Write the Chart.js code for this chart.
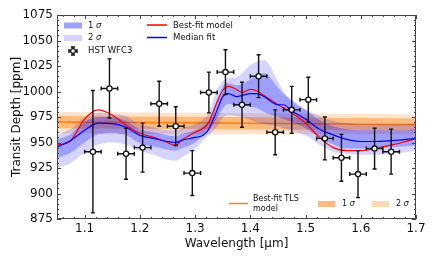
<!DOCTYPE html>
<html>
<head>
<meta charset="utf-8">
<script src="https://cdn.jsdelivr.net/npm/chart.js@4.4.0/dist/chart.umd.min.js"></script>
<style>
  html, body { margin: 0; padding: 0; background: #fff; }
  #wrap { width: 432px; height: 259px; }
</style>
</head>
<body>
<div id="wrap"><canvas id="c" width="432" height="259"></canvas></div>
<script>
// HST WFC3 spectrum
const wav = [1.115, 1.145, 1.175, 1.205, 1.235, 1.265, 1.295, 1.325, 1.355, 1.385,
             1.415, 1.445, 1.475, 1.505, 1.535, 1.565, 1.595, 1.625, 1.655];
const depth = [941, 1003, 939, 945, 988, 966, 920, 999, 1019, 987,
               1015, 960, 982, 992, 954, 935, 919, 944, 941];
const depthErr = [60, 29, 25, 24, 22, 19, 22, 20, 22, 22,
                  21, 22, 23, 22, 21, 23, 23, 20, 22];
const binHalf = 0.015;

// retrieval model
const modelWav = [1.05, 1.075, 1.10, 1.125, 1.15, 1.175, 1.20, 1.225, 1.25, 1.265, 1.275,
                  1.30, 1.315, 1.325, 1.34, 1.35, 1.36, 1.375, 1.385, 1.40, 1.41, 1.425,
                  1.45, 1.46, 1.475, 1.50, 1.525, 1.55, 1.575, 1.60, 1.625, 1.65, 1.675, 1.70];
const bestFit = [947, 952, 973, 982, 977, 967, 959, 955, 950, 947, 952,
                 960, 964, 970, 990, 1001, 1005, 1002, 999, 1002, 1001, 996,
                 987, 984, 979, 969, 955, 945, 942, 942, 944, 947, 950, 954];
const medianFit = [945.5, 952, 962, 969, 968.5, 965, 957, 954, 951, 950, 952,
                   955, 957, 963, 982, 995, 998, 995, 996, 998, 998, 995,
                   987, 987, 981, 973, 963, 957.5, 953, 951, 951, 951.5, 952.5, 954];
const lo1 = [935, 940, 950, 958, 959, 957, 949, 946, 943, 942, 944,
             950, 957, 962, 974, 983, 988, 986, 986, 985, 984, 980,
             975, 973, 970, 964, 955, 948, 944, 944, 944, 945, 946, 947];
const hi1 = [953, 958, 970, 975, 975, 971, 963, 960, 957, 956, 958,
             962, 966, 972, 992, 1005, 1008, 1006, 1007, 1012, 1015, 1018,
             1004, 998, 992, 982, 972, 966, 963, 962, 962, 962, 962, 963];
const lo2 = [925, 930, 940, 948, 950, 948, 942, 938, 933, 932, 935,
             944, 952, 957, 966, 974, 977, 976, 975, 972, 970, 968,
             966, 964, 961, 957, 948, 941, 939, 938, 938, 939, 940, 942];
const hi2 = [958, 963, 975, 979, 978, 976, 968, 965, 962, 962, 964,
             968, 973, 980, 1002, 1010, 1013, 1014, 1018, 1026, 1029, 1031,
             1010, 1000, 990, 982, 976, 971, 969, 968, 968, 968, 968, 969];

// TLS model
const tlsWav = [1.05, 1.2, 1.35, 1.5, 1.6, 1.7];
const tlsFit = [970, 969.5, 969, 968.5, 968, 967.5];
const tlsLo1 = [964, 963.5, 963, 962.5, 962, 962];
const tlsHi1 = [976, 975.5, 975, 974.5, 974, 973.5];
const tlsLo2 = [959, 958.5, 958, 958, 958, 958];
const tlsHi2 = [980, 979.5, 979, 978.5, 978, 977.5];

const xTicks = [1.1, 1.2, 1.3, 1.4, 1.5, 1.6, 1.7];
const yTicks = [875, 900, 925, 950, 975, 1000, 1025, 1050, 1075];

const FONT = "'DejaVu Sans', sans-serif";
const BLUE2 = 'rgba(0,0,255,0.17)';
const BLUE1 = 'rgba(0,0,255,0.26)';
const BLUE1_KEY = 'rgba(0,0,255,0.38)';
const ORANGE = '#ff7f0e';
const ORANGE1 = 'rgba(255,127,14,0.42)';
const ORANGE2 = 'rgba(255,127,14,0.22)';

const pts = (xs, ys) => xs.map((w, i) => ({ x: w, y: ys[i] }));

function band(xs, ys, color, order, fill) {
  return {
    data: pts(xs, ys), borderWidth: 0, borderColor: 'transparent', pointRadius: 0,
    backgroundColor: color, fill: fill, order: order, cubicInterpolationMode: 'monotone'
  };
}
function curve(xs, ys, color, width, order) {
  return {
    data: pts(xs, ys), borderColor: color, borderWidth: width, pointRadius: 0,
    fill: false, order: order, cubicInterpolationMode: 'monotone'
  };
}

const datasets = [
  band(tlsWav, tlsLo2, 'transparent', 10, false),
  band(tlsWav, tlsHi2, ORANGE2, 10, '-1'),
  band(tlsWav, tlsLo1, 'transparent', 9, false),
  band(tlsWav, tlsHi1, ORANGE1, 9, '-1'),
  curve(tlsWav, tlsFit, ORANGE, 1.5, 8),
  band(modelWav, lo2, 'transparent', 7, false),
  band(modelWav, hi2, BLUE2, 7, '-1'),
  band(modelWav, lo1, 'transparent', 6, false),
  band(modelWav, hi1, BLUE1, 6, '-1'),
  curve(modelWav, bestFit, '#ff0000', 1.2, 2),
  curve(modelWav, medianFit, '#0000ff', 1.2, 1),
  {
    data: pts(wav, depth), showLine: false, order: 0,
    pointRadius: 2.6, pointBackgroundColor: '#fff', pointBorderColor: '#111', pointBorderWidth: 1.3
  }
];
const POINTS = datasets.length - 1;

function errCross(ctx, px, py, x0, x1, y0, y1) {
  ctx.beginPath();
  ctx.moveTo(px, y0); ctx.lineTo(px, y1);
  ctx.moveTo(x0, py); ctx.lineTo(x1, py);
  ctx.moveTo(px - 2, y0); ctx.lineTo(px + 2, y0);
  ctx.moveTo(px - 2, y1); ctx.lineTo(px + 2, y1);
  ctx.moveTo(x0, py - 2); ctx.lineTo(x0, py + 2);
  ctx.moveTo(x1, py - 2); ctx.lineTo(x1, py + 2);
  ctx.stroke();
}

// error bars go under the points
const errorBars = {
  id: 'errorBars',
  beforeDatasetDraw(chart, args) {
    if (args.index !== POINTS) return;
    const { ctx, scales: { x, y } } = chart;
    ctx.save();
    ctx.strokeStyle = '#111';
    ctx.lineWidth = 1.4;
    wav.forEach((w, i) => {
      errCross(ctx,
        x.getPixelForValue(w), y.getPixelForValue(depth[i]),
        x.getPixelForValue(w - binHalf), x.getPixelForValue(w + binHalf),
        y.getPixelForValue(depth[i] - depthErr[i]), y.getPixelForValue(depth[i] + depthErr[i]));
    });
    ctx.restore();
  }
};

// frame + inward ticks on all four sides
const frame = {
  id: 'frame',
  afterDraw(chart) {
    const { ctx, chartArea: a, scales: { x, y } } = chart;
    ctx.save();
    ctx.strokeStyle = '#444';
    ctx.lineWidth = 1;
    ctx.strokeRect(a.left + 0.5, a.top + 0.5, a.right - a.left - 1, a.bottom - a.top - 1);
    ctx.beginPath();
    for (let k = 53; k <= 85; k++) {
      const px = Math.round(x.getPixelForValue(k * 0.02)) + 0.5;
      const len = (k % 5 === 0) ? 4 : 2;
      ctx.moveTo(px, a.bottom); ctx.lineTo(px, a.bottom - len);
      ctx.moveTo(px, a.top); ctx.lineTo(px, a.top + len);
    }
    for (let v = 875; v <= 1075; v += 5) {
      const py = Math.round(y.getPixelForValue(v)) + 0.5;
      const len = (v % 25 === 0) ? 4 : 2;
      ctx.moveTo(a.left, py); ctx.lineTo(a.left + len, py);
      ctx.moveTo(a.right, py); ctx.lineTo(a.right - len, py);
    }
    ctx.stroke();
    ctx.restore();
  }
};

function sigmaText(ctx, n, x, y, size) {
  ctx.font = size + 'px ' + FONT;
  ctx.fillText(n + ' ', x, y);
  const w = ctx.measureText(n + ' ').width;
  ctx.font = 'italic ' + size + 'px ' + FONT;
  ctx.fillText('σ', x + w, y);
}

const legends = {
  id: 'legends',
  afterDraw(chart) {
    const ctx = chart.ctx;
    ctx.save();
    ctx.textBaseline = 'middle';
    // upper left legend
    ctx.fillStyle = BLUE1_KEY; ctx.fillRect(64, 22.5, 18, 6);
    ctx.fillStyle = BLUE2; ctx.fillRect(64, 35, 18, 6);
    ctx.fillStyle = '#111';
    sigmaText(ctx, '1', 88, 25.5, 8.5);
    sigmaText(ctx, '2', 88, 38, 8.5);
    ctx.strokeStyle = '#111'; ctx.lineWidth = 1.4;
    errCross(ctx, 73, 51, 69, 77, 47, 55);
    ctx.beginPath(); ctx.arc(73, 51, 2.4, 0, Math.PI * 2);
    ctx.fillStyle = '#fff'; ctx.fill(); ctx.lineWidth = 1.2; ctx.stroke();
    ctx.fillStyle = '#111';
    ctx.font = '8.5px ' + FONT;
    ctx.fillText('HST WFC3', 88, 51);
    ctx.lineWidth = 1.5;
    ctx.strokeStyle = '#ff0000';
    ctx.beginPath(); ctx.moveTo(147, 25); ctx.lineTo(167, 25); ctx.stroke();
    ctx.strokeStyle = '#0000ff';
    ctx.beginPath(); ctx.moveTo(147, 37.5); ctx.lineTo(167, 37.5); ctx.stroke();
    ctx.fillText('Best-fit model', 173, 25.5);
    ctx.fillText('Median fit', 173, 38);
    // lower right legend (TLS)
    ctx.strokeStyle = ORANGE;
    ctx.beginPath(); ctx.moveTo(229, 203.5); ctx.lineTo(248, 203.5); ctx.stroke();
    ctx.font = '8px ' + FONT;
    ctx.fillText('Best-fit TLS', 253, 199);
    ctx.fillText('model', 253, 208.5);
    ctx.fillStyle = 'rgba(255,127,14,0.55)'; ctx.fillRect(318, 201, 17, 6);
    ctx.fillStyle = 'rgba(255,127,14,0.3)'; ctx.fillRect(372, 201, 17, 6);
    ctx.fillStyle = '#111';
    sigmaText(ctx, '1', 342, 204, 8);
    sigmaText(ctx, '2', 396, 204, 8);
    ctx.restore();
  }
};

new Chart(document.getElementById('c'), {
  type: 'line',
  data: { datasets: datasets },
  options: {
    responsive: false,
    animation: false,
    devicePixelRatio: 1,
    layout: { padding: { left: 6, top: 15, right: 16, bottom: 0 } },
    plugins: { legend: { display: false }, tooltip: { enabled: false } },
    scales: {
      x: {
        type: 'linear', min: 1.05, max: 1.7,
        afterBuildTicks: s => { s.ticks = xTicks.map(v => ({ value: v })); },
        afterFit: s => { s.height = 40; },
        grid: { display: false, drawTicks: false },
        border: { display: false },
        ticks: { color: '#111', padding: 3, font: { family: FONT, size: 12 },
                 callback: v => v.toFixed(1) },
        title: { display: true, text: 'Wavelength [μm]', color: '#111',
                 font: { family: FONT, size: 12 }, padding: { top: 0, bottom: 8 } }
      },
      y: {
        type: 'linear', min: 875, max: 1075,
        afterBuildTicks: s => { s.ticks = yTicks.map(v => ({ value: v })); },
        afterFit: s => { s.width = 51; },
        grid: { display: false, drawTicks: false },
        border: { display: false },
        ticks: { color: '#111', padding: 4, font: { family: FONT, size: 12 },
                 callback: v => String(v) },
        title: { display: true, text: 'Transit Depth [ppm]', color: '#111',
                 font: { family: FONT, size: 12 }, padding: { top: 4, bottom: 0 } }
      }
    }
  },
  plugins: [errorBars, frame, legends]
});
</script>
</body>
</html>
